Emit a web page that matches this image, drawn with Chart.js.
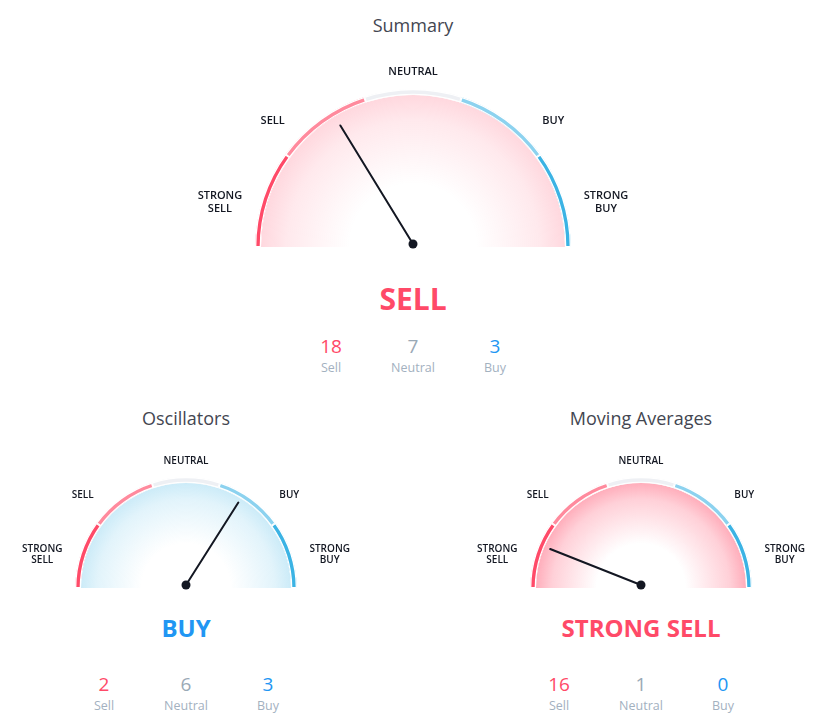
<!DOCTYPE html>
<html>
<head>
<meta charset="utf-8">
<script src="https://cdn.jsdelivr.net/npm/chart.js@4.4.1/dist/chart.umd.min.js"></script>
<style>
    body { margin: 0; background: #fff; font-family: 'Open Sans', sans-serif; }
    #painel { position: relative; width: 827px; height: 724px; overflow: hidden; }
    .caixa { position: absolute; }
    .txt { position: absolute; transform: translate(-50%, -50%); white-space: nowrap; line-height: 1; text-align: center; }
    .titulo { font-size: 18px; color: #434651; }
    .veredito { font-weight: 700; }
    .numero { font-size: 19px; }
    .rotulo { font-size: 12.5px; color: #a3b1bf; }
</style>
</head>
<body>
<div id="painel"></div>

<script>
// --- DADOS ---
const zonas = ['STRONG SELL', 'SELL', 'NEUTRAL', 'BUY', 'STRONG BUY'];
const titulos = ['Summary', 'Oscillators', 'Moving Averages'];
const ponteiros = [-0.35, 0.36, -0.76];      // posição do ponteiro, -1 (strong sell) .. 1 (strong buy)
const veredictos = ['SELL', 'BUY', 'STRONG SELL'];
const nomesContagem = ['Sell', 'Neutral', 'Buy'];
const contagemSell = [18, 2, 16];
const contagemNeutral = [7, 6, 1];
const contagemBuy = [3, 3, 0];

// --- ESTILO / POSIÇÕES ---
const coresZonas = ['#ff4a68', '#ff8a9d', '#eef0f4', '#8cd2ef', '#3bb3e4'];
const coresContagem = ['#ff4a68', '#9aa9b6', '#2196f3'];
const corVeredito = { 'SELL': '#ff4a68', 'STRONG SELL': '#ff4a68', 'BUY': '#2196f3', 'STRONG BUY': '#2196f3', 'NEUTRAL': '#9aa9b6' };
const tonsFundo = {
    'SELL': [255, 74, 104, 0.24],
    'STRONG SELL': [255, 74, 104, 0.52],
    'BUY': [59, 179, 228, 0.3],
    'STRONG BUY': [59, 179, 228, 0.52],
    'NEUTRAL': [200, 200, 200, 0.2]
};
const angulosRotulos = [13, 42, 90, 138, 167];      // graus a partir da esquerda
const distRotulos = [3.65, 2.8, 1.55, 2.8, 3.65];    // em "em" além do arco

const layout = [
    { cx: 413, cy: 247, r: 158, caixa: [150, 45, 527, 210], tituloY: 25, vereditoY: 299, vereditoTam: 30, numY: 346, rotY: 368, fonte: 11, linha: 13 },
    { cx: 186, cy: 588, r: 111, caixa: [0, 440, 372, 155], tituloY: 418, vereditoY: 628, vereditoTam: 24, numY: 684, rotY: 706, fonte: 10, linha: 11 },
    { cx: 641, cy: 588, r: 111, caixa: [455, 440, 372, 155], tituloY: 418, vereditoY: 628, vereditoTam: 24, numY: 684, rotY: 706, fonte: 10, linha: 11 }
];

const painel = document.getElementById('painel');

function criarTexto(texto, x, y, classe, estilo) {
    const el = document.createElement('div');
    el.className = 'txt ' + classe;
    el.style.left = x + 'px';
    el.style.top = y + 'px';
    Object.assign(el.style, estilo || {});
    el.textContent = texto;
    painel.appendChild(el);
}

// Plugin: rótulos das zonas + ponteiro
const pluginMostrador = {
    id: 'mostrador',
    afterDatasetsDraw(chart, args, opts) {
        const arco = chart.getDatasetMeta(0).data[0];
        if (!arco) return;
        const { x, y, outerRadius } = arco.getProps(['x', 'y', 'outerRadius'], true);
        const c = chart.ctx;
        c.save();

        // rótulos
        c.fillStyle = '#131722';
        c.font = `600 ${opts.fonte}px 'Open Sans', sans-serif`;
        c.textAlign = 'center';
        c.textBaseline = 'middle';
        zonas.forEach((nome, i) => {
            const ang = Math.PI + angulosRotulos[i] * Math.PI / 180;
            const dist = outerRadius + distRotulos[i] * opts.fonte;
            const lx = x + Math.cos(ang) * dist;
            const ly = y + Math.sin(ang) * dist;
            const linhas = nome.split(' ');
            linhas.forEach((l, j) => c.fillText(l, lx, ly + (j - (linhas.length - 1) / 2) * opts.linha));
        });

        // ponteiro
        const py = y - 3;
        const a = Math.PI * (1 + (opts.valor + 1) / 2);
        const comp = outerRadius * 0.88;
        c.strokeStyle = '#131722';
        c.lineWidth = 2;
        c.lineCap = 'round';
        c.beginPath();
        c.moveTo(x, py);
        c.lineTo(x + Math.cos(a) * comp, py + Math.sin(a) * comp);
        c.stroke();
        c.beginPath();
        c.arc(x, py, 4.5, 0, Math.PI * 2);
        c.fillStyle = '#131722';
        c.fill();
        c.restore();
    }
};

function gradienteFundo(ctx, tom) {
    const area = ctx.chart.chartArea;
    if (!area) return 'rgba(0,0,0,0)';
    const cx = (area.left + area.right) / 2;
    const cy = area.bottom;
    const r = (area.right - area.left) / 2;
    const [rr, gg, bb, aa] = tom;
    const g = ctx.chart.ctx.createRadialGradient(cx, cy, 0, cx, cy, r);
    g.addColorStop(0, `rgba(${rr},${gg},${bb},0)`);
    g.addColorStop(0.4, `rgba(${rr},${gg},${bb},0)`);
    g.addColorStop(0.8, `rgba(${rr},${gg},${bb},${aa * 0.5})`);
    g.addColorStop(1, `rgba(${rr},${gg},${bb},${aa})`);
    return g;
}

layout.forEach((L, i) => {
    const [bx, by, bw, bh] = L.caixa;
    const div = document.createElement('div');
    div.className = 'caixa';
    div.style.left = bx + 'px';
    div.style.top = by + 'px';
    div.style.width = bw + 'px';
    div.style.height = bh + 'px';
    const canvas = document.createElement('canvas');
    div.appendChild(canvas);
    painel.appendChild(div);

    const tom = tonsFundo[veredictos[i]];

    new Chart(canvas, {
        type: 'doughnut',
        data: {
            labels: zonas,
            datasets: [
                {
                    data: zonas.map(() => 1),
                    backgroundColor: coresZonas,
                    borderColor: '#ffffff',
                    borderWidth: 1,
                    borderAlign: 'inner',
                    hoverOffset: 0,
                    weight: 6
                },
                {
                    data: [1],
                    backgroundColor: (ctx) => gradienteFundo(ctx, tom),
                    borderWidth: 0,
                    hoverOffset: 0,
                    weight: L.r - 6
                }
            ]
        },
        plugins: [pluginMostrador],
        options: {
            responsive: true,
            maintainAspectRatio: false,
            animation: false,
            events: [],
            rotation: -90,
            circumference: 180,
            cutout: 0,
            layout: {
                padding: {
                    left: L.cx - L.r - bx,
                    right: bx + bw - (L.cx + L.r),
                    top: L.cy - L.r - by,
                    bottom: by + bh - L.cy
                }
            },
            plugins: {
                legend: { display: false },
                tooltip: { enabled: false },
                mostrador: { valor: ponteiros[i], fonte: L.fonte, linha: L.linha }
            }
        }
    });

    criarTexto(titulos[i], L.cx, L.tituloY, 'titulo');
    criarTexto(veredictos[i], L.cx, L.vereditoY, 'veredito', { fontSize: L.vereditoTam + 'px', color: corVeredito[veredictos[i]] });

    const valores = [contagemSell[i], contagemNeutral[i], contagemBuy[i]];
    nomesContagem.forEach((nome, k) => {
        const x = L.cx + (k - 1) * 82;
        criarTexto(String(valores[k]), x, L.numY, 'numero', { color: coresContagem[k] });
        criarTexto(nome, x, L.rotY, 'rotulo');
    });
});
</script>
</body>
</html>
